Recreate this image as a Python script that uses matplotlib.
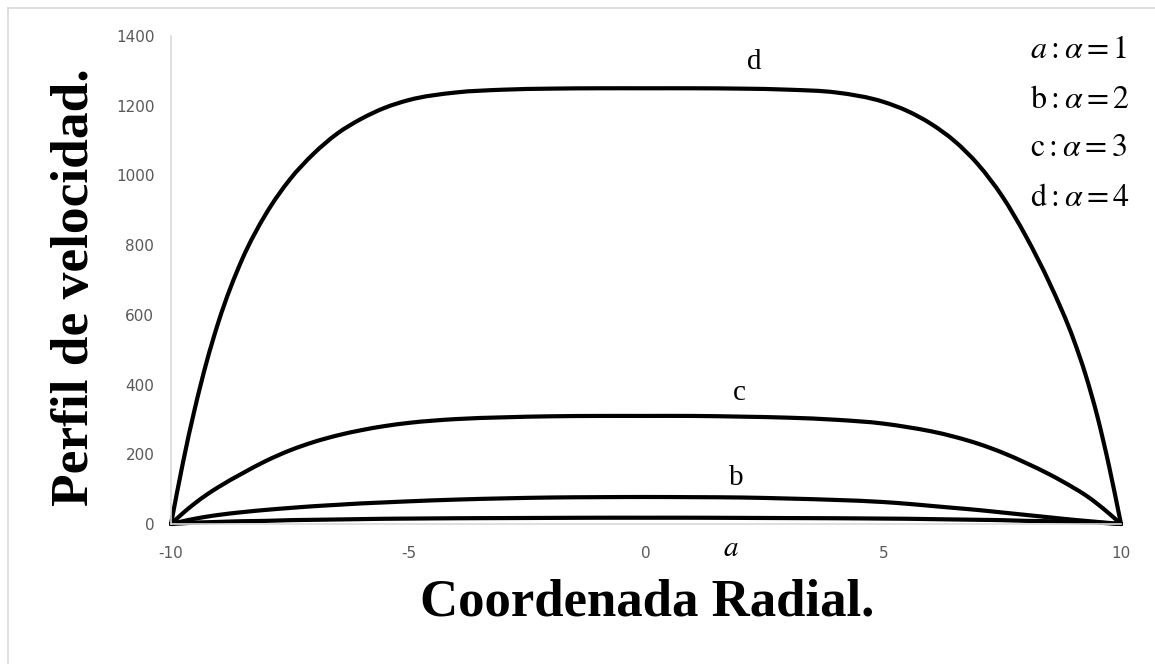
import numpy as np
import matplotlib
matplotlib.use("Agg")
import matplotlib.pyplot as plt
from matplotlib.lines import Line2D
from matplotlib.path import Path
from matplotlib.patches import PathPatch

# coordenada radial
r = [-10, -9.75, -9.5, -9.25, -9, -8.5, -8, -7.5, -7, -6.5, -6, -5.5, -5, -4, -3, -2, -1,
     0, 1, 2, 3, 4, 5, 5.5, 6, 6.5, 7, 7.5, 8, 8.5, 9, 9.25, 9.5, 9.75, 10]

# perfiles de velocidad para alpha = 1..4
v_a = [0, 2, 4, 5, 6, 8, 9, 11, 12, 13, 14, 15, 15.5, 16.5, 17, 17.5, 18,
       18, 18, 17.5, 17, 16.5, 15.5, 15, 14, 13, 12, 11, 9, 8, 6, 5, 4, 2, 0]
v_b = [0, 8, 15, 21, 26, 34, 40.5, 46, 51, 55, 59, 62, 65, 70, 73.5, 76, 77,
       77.5, 77, 76, 73, 69, 63, 58, 52, 46, 40, 33, 26, 19, 12, 9, 6, 3, 0]
v_c = [0, 31, 59, 84, 106, 145, 181, 211, 235, 254, 269, 281, 290, 301, 306, 309, 310,
       310, 310, 308, 305, 299, 288, 278, 266, 250, 230, 205, 175, 142, 104, 83, 58, 30, 0]
v_d = [0, 175, 330, 465, 580, 760, 890, 988, 1062, 1120, 1162, 1194, 1216, 1238, 1246, 1249, 1250,
       1250, 1250, 1249, 1246, 1238, 1211, 1185, 1148, 1098, 1030, 940, 825, 690, 530, 430, 310, 165, 0]

x_ticks = [-10, -5, 0, 5, 10]
y_ticks = [0, 200, 400, 600, 800, 1000, 1200, 1400]

leyenda = [r"$a:\alpha=1$", r"$\mathrm{b}:\alpha=2$", r"$\mathrm{c}:\alpha=3$", r"$\mathrm{d}:\alpha=4$"]

plt.rcParams['mathtext.fontset'] = 'stix'
plt.rcParams['axes.unicode_minus'] = False


def linea_suave(ax, x, y, **kw):
    """linea suavizada tipo Excel: tramos Bezier cubicos entre los puntos"""
    x = np.asarray(x, float)
    y = np.asarray(y, float)
    m = np.gradient(y, x)
    verts = [(x[0], y[0])]
    codes = [Path.MOVETO]
    for i in range(len(x) - 1):
        h = x[i + 1] - x[i]
        verts += [(x[i] + h / 3, y[i] + m[i] * h / 3),
                  (x[i + 1] - h / 3, y[i + 1] - m[i + 1] * h / 3),
                  (x[i + 1], y[i + 1])]
        codes += [Path.CURVE4] * 3
    ax.add_patch(PathPatch(Path(verts, codes), fill=False, clip_on=False, **kw))


W, H = 1155, 664
fig = plt.figure(figsize=(W / 100, H / 100), dpi=100)
ax = fig.add_axes([171 / W, 1 - 524 / H, (1121 - 171) / W, (524 - 36) / H])

for v in (v_a, v_b, v_c, v_d):
    linea_suave(ax, r, v, edgecolor='black', lw=3, joinstyle='round', capstyle='round')

ax.set_xlim(-10, 10)
ax.set_ylim(0, 1400)
ax.set_xticks(x_ticks)
ax.set_yticks(y_ticks)
ax.tick_params(length=0, labelsize=11, labelcolor='#595959')
ax.tick_params(axis='x', pad=16)
ax.tick_params(axis='y', pad=12)
for s in ('top', 'right'):
    ax.spines[s].set_visible(False)
for s in ('left', 'bottom'):
    ax.spines[s].set_color('#d9d9d9')
    ax.spines[s].set_linewidth(1.2)

serif = 'Liberation Serif'
fig.text(647 / W, 1 - 603 / H, 'Coordenada Radial.', family=serif, weight='bold',
         fontsize=38, ha='center', va='center')
fig.text(75 / W, 1 - 287 / H, 'Perfil de velocidad.', family=serif, weight='bold',
         fontsize=38.5, ha='center', va='center', rotation=90)

# etiquetas de las curvas
ax.text(2.27, 1325, 'd', family=serif, fontsize=21, ha='center', va='center')
ax.text(1.97, 376, 'c', family=serif, fontsize=21, ha='center', va='center')
ax.text(1.90, 132, 'b', family=serif, fontsize=21, ha='center', va='center')
ax.text(1.78, -69, r'$a$', fontsize=21, ha='center', va='center')

for i, t in enumerate(leyenda):
    fig.text(1030 / W, 1 - (50 + 49 * i) / H, t, fontsize=23, ha='left', va='center')

# marco exterior
fig.add_artist(Line2D([8 / W, 1], [1 - 8 / H, 1 - 8 / H], transform=fig.transFigure, color='#d9d9d9', lw=1.2))
fig.add_artist(Line2D([8 / W, 8 / W], [0, 1 - 8 / H], transform=fig.transFigure, color='#d9d9d9', lw=1.2))

fig.savefig('out.png', dpi=100)
